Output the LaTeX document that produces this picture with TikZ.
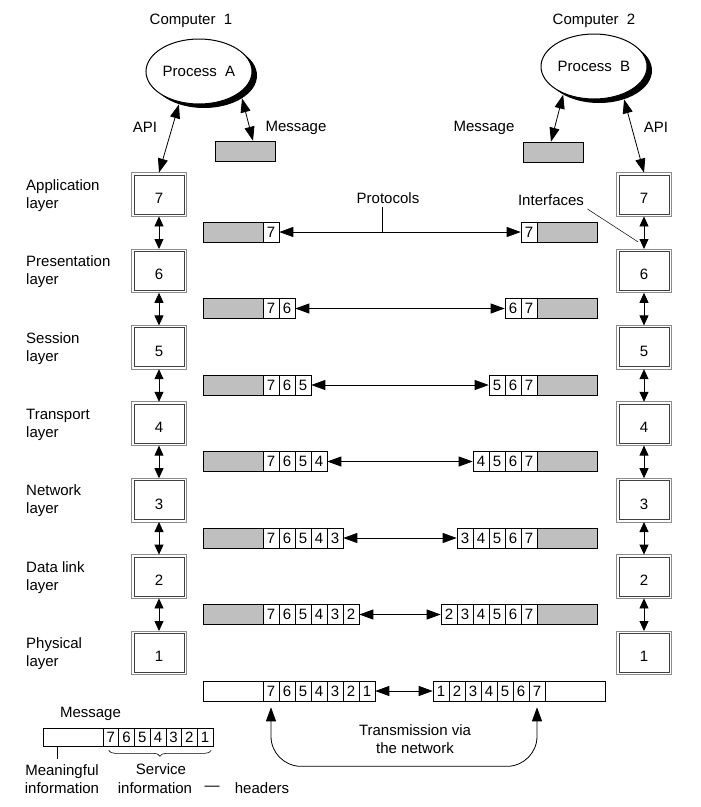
\documentclass[tikz,border=0pt]{standalone}
\usepackage{fontspec}
\setmainfont{Liberation Sans}
\usetikzlibrary{arrows.meta,shapes.geometric,calc,decorations.pathreplacing}
\tikzset{
  every node/.style={font=\fontsize{15}{18}\selectfont},
  both/.style={{Triangle[length=14pt,width=10pt]}-{Triangle[length=14pt,width=10pt]}, line width=0.8pt},
  ifc/.style={{Triangle[length=10pt,width=9pt]}-{Triangle[length=10pt,width=9pt]}, line width=0.8pt},
  layerbox/.style={draw=black!75, line width=0.8pt,
    minimum width=50pt, minimum height=39pt, text height=18pt, text depth=0pt, inner sep=0pt},
  frame/.style={draw=black!45, line width=0.9pt},
  cell/.style={draw, line width=0.6pt, minimum width=16pt, minimum height=20pt, inner sep=0pt},
  graybar/.style={draw, line width=0.6pt, fill=black!25, minimum width=60pt, minimum height=20pt, inner sep=0pt},
  whitebar/.style={draw, line width=0.6pt, fill=white, minimum width=60pt, minimum height=20pt, inner sep=0pt},
  process/.style={ellipse, draw, line width=1pt, fill=white, minimum width=106pt, minimum height=65pt, inner sep=0pt},
  shade/.style={ellipse, fill=black, minimum width=106pt, minimum height=65pt, inner sep=0pt}
}
\begin{document}
\begin{tikzpicture}[x=1pt,y=-1pt]
\useasboundingbox (0,0) rectangle (701,807);
% computers and processes
\node (c1) at (191,21) {Computer\ \ 1};
\node[shade] (PAsh) at (204,75.5) {};
\node[process] (PA) at (199,71.5) {Process\ \ A};
\node (c2) at (594,21) {Computer\ \ 2};
\node[shade] (PBsh) at (599,70.5) {};
\node[process] (PB) at (594,66.5) {Process\ \ B};
\node[graybar] (MA) at (245,151) {};
\node[graybar] (MB) at (553,152) {};
\node (apiA) at (145,127) {API};
\node (msgA) at (296,128) {Message};
\node (msgB) at (484,128) {Message};
\node (apiB) at (656,127) {API};
% layers
\foreach \k/\name [evaluate=\k as \yb using 194.5+(7-\k)*76.4] in
  {7/Application,6/Presentation,5/Session,4/Transport,3/Network,2/Data link,1/Physical} {
  \node[layerbox] (L\k) at (159,\yb) {\k};
  \draw[frame] ([xshift=-2pt,yshift=-2pt]L\k.south west) rectangle ([xshift=2pt,yshift=2pt]L\k.north east);
  \node[layerbox] (R\k) at (644,\yb) {\k};
  \draw[frame] ([xshift=-2pt,yshift=-2pt]R\k.south west) rectangle ([xshift=2pt,yshift=2pt]R\k.north east);
  \node[anchor=west, align=left, inner sep=0pt] (n\k) at (26,{\yb+1}) {\name\\layer};
}
\foreach \k [evaluate=\k as \m using int(\k-1)] in {7,...,2} {
  \draw[ifc] ([yshift=-2pt]L\k.south) -- ([yshift=2pt]L\m.north);
  \draw[ifc] ([yshift=-2pt]R\k.south) -- ([yshift=2pt]R\m.north);
}
\draw[both] (PAsh.229) -- ([yshift=2pt]L7.north);
\draw[both] (PAsh.329) -- ($(MA.north)+(8,0)$);
\draw[both] (PBsh.311) -- ([yshift=2pt]R7.north);
\draw[both] (PBsh.214) -- ($(MB.north)+(-2,0)$);
% messages with headers
\foreach \k [evaluate=\k as \yr using 232+(7-\k)*76.5] in {7,...,2} {
  \node[graybar] (gl\k) at (233,\yr) {};
  \node[graybar] (gr\k) at (567,\yr) {};
  \foreach \j in {\k,...,7} {
    \node[cell] (l\k-\j) at ({271+16*(7-\j)},\yr) {\j};
    \node[cell] (r\k-\j) at ({529-16*(7-\j)},\yr) {\j};
  }
  \draw[both] (l\k-\k.east) -- (r\k-\k.west);
}
\node[whitebar] (wl) at (233,691) {};
\node[whitebar] (wr) at (575,691) {};
\foreach \j in {1,...,7} {
  \node[cell] (l1-\j) at ({271+16*(7-\j)},691) {\j};
  \node[cell] (r1-\j) at ({441+16*(\j-1)},691) {\j};
}
\draw[both] (l1-1.east) -- (r1-1.west);
% protocols and interfaces
\node (prot) at (388,198) {Protocols};
\coordinate (pt) at ([xshift=-6pt]prot.south);
\draw[line width=0.6pt] (pt) -- (pt |- l7-7.east);
\node (ifcs) at (551,200) {Interfaces};
\draw[line width=0.5pt] (ifcs.south east) -- ($(R7.south)!0.75!(R6.north)+(-6,0)$);
% network
\node[align=center] (trn) at (415,739) {Transmission via\\the network};
\draw[both, rounded corners=30pt, shorten <=6pt, shorten >=6pt]
  (l1-7.south) |- ($(l1-7.south)!0.5!(r1-7.south)+(0,65)$) -| (r1-7.south);
% legend
\node (msgL) at (90.5,714) {Message};
\node[whitebar, minimum height=18pt] (mw) at (73,737) {};
\foreach \j in {1,...,7}
  \node[cell, minimum width=15.7pt, minimum height=18pt] (m\j) at ({110.85+15.7*(7-\j)},737) {\j};
\draw[line width=0.6pt] ([xshift=-16pt]mw.south) -- ++(0,13);
\draw[line width=0.6pt, decorate, decoration={brace, mirror, amplitude=6pt}]
  ([xshift=6pt,yshift=-4pt]m7.south west) -- ([xshift=-2pt,yshift=-4pt]m1.south east);
\node[align=center] (mi) at (62,779) {Meaningful\\information};
\node (svc) at (161,769) {Service};
\node (inf) at (155,788) {information};
\node (dash) at (212,788) {—};
\node (hdr) at (262,788) {headers};
\end{tikzpicture}
\end{document}
